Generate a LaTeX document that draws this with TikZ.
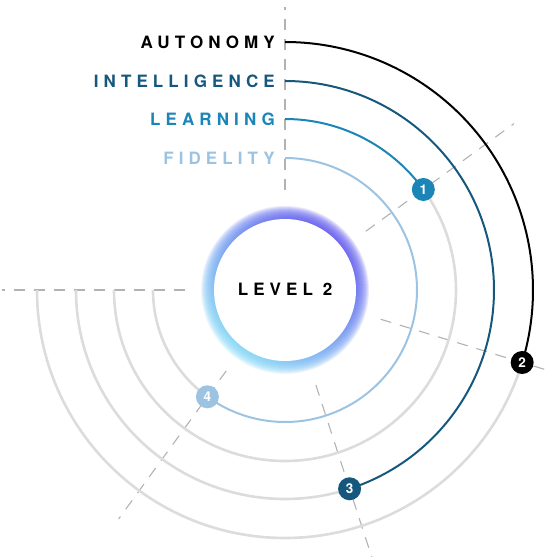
\documentclass[tikz,border=0pt]{standalone}
\usepackage{fontspec}
\setmainfont{TeX Gyre Heros}
\usepackage{xcolor}

\definecolor{autonomycol}{HTML}{000000}
\definecolor{intelcol}{HTML}{16587D}
\definecolor{learncol}{HTML}{1A85B6}
\definecolor{fidelcol}{HTML}{9CC4E2}
\definecolor{trackgrey}{HTML}{DCDCDC}
\definecolor{axisgrey}{HTML}{B2B2B2}
\definecolor{glowtop}{HTML}{5A52EC}
\definecolor{glowbottom}{HTML}{7ED8F4}

\tikzset{
  levellabel/.style={font=\fontsize{17}{17}\selectfont\bfseries\addfontfeature{LetterSpace=30}, inner sep=0pt, anchor=base east},
  marker/.style={circle, minimum size=23pt, inner sep=0pt, text=white, font=\fontsize{13.5}{13.5}\selectfont\bfseries},
  track/.style={trackgrey, line width=2.6pt},
  ring/.style={line width=2pt},
  guide/.style={axisgrey, line width=1.1pt, dash pattern=on 11pt off 9pt},
  glow/.style={top color=glowtop, bottom color=glowbottom, shading angle=-40, opacity=0.14}
}

\begin{document}
\begin{tikzpicture}[x=1pt, y=1pt]
		\useasboundingbox (-285,-267) rectangle (263,290);
		\def\ra{248};
		\def\ri{209};
		\def\rl{171};
		\def\rf{132};
		
		% radial guides
		\foreach \a in {90, 180, 36, -17, -72, 234}
			\draw [guide] (\a:100) -- (\a:283);
		
		% grey tracks
		\draw [track] (180:\ra) arc [start angle=180, end angle=343, radius=\ra];
		\draw [track] (180:\ri) arc [start angle=180, end angle=288, radius=\ri];
		\draw [track] (180:\rl) arc [start angle=180, end angle=396, radius=\rl];
		\draw [track] (180:\rf) arc [start angle=180, end angle=234, radius=\rf];
		
		% labels
		\node [levellabel, text=autonomycol] (autonomy) at (-10, \ra - 6.5) {AUTONOMY};
		\node [levellabel, text=intelcol] (intelligence) at (-10, \ri - 6.5) {INTELLIGENCE};
		\node [levellabel, text=learncol] (learning) at (-10, \rl - 6.5) {LEARNING};
		\node [levellabel, text=fidelcol] (fidelity) at (-10, \rf - 6.5) {FIDELITY};
		
		\coordinate (a-top) at (90:\ra);
		\coordinate (i-top) at (90:\ri);
		\coordinate (l-top) at (90:\rl);
		\coordinate (f-top) at (90:\rf);
		
		% coloured rings
		\draw [ring, autonomycol] (a-top) arc [start angle=90, end angle=-17, radius=\ra];
		\draw [ring, intelcol] (i-top) arc [start angle=90, end angle=-72, radius=\ri];
		\draw [ring, learncol] (l-top) arc [start angle=90, end angle=36, radius=\rl];
		\draw [ring, fidelcol] (f-top) arc [start angle=90, end angle=-126, radius=\rf];
		
		% markers
		\node [marker, fill=learncol] (m1) at (36:\rl) {1};
		\node [marker, fill=autonomycol] (m2) at (-17:\ra) {2};
		\node [marker, fill=intelcol] (m3) at (-72:\ri) {3};
		\node [marker, fill=fidelcol] (m4) at (234:\rf) {4};
		
		% centre glow, built up in thin layers
		\foreach \r in {84, 83, ..., 70}
			\shade [glow] (0,0) circle (\r);
		\fill [white] (0,0) circle (71);
		\node [levellabel, anchor=base, text=black] (level) at (0,-5.5) {LEVEL 2};
	\end{tikzpicture}
\end{document}
